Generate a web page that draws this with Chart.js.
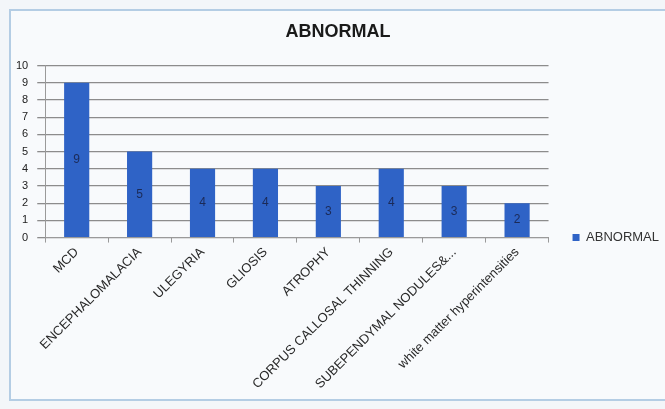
<!DOCTYPE html>
<html>
<head>
<meta charset="utf-8">
<script src="https://cdn.jsdelivr.net/npm/chart.js@4"></script>
<style>
  html, body { margin: 0; padding: 0; overflow: hidden; background: #f3f6f9; }
  #frame {
    position: absolute; left: 9px; top: 9px; width: 670px; height: 388px;
    border: 2px solid #b4cde4; background: #f8fafc;
  }
  #chart { position: absolute; left: 0; top: 0; }
</style>
</head>
<body>
<div id="frame"></div>
<canvas id="chart" width="669" height="409"></canvas>
<script>
const categories = [
    'MCD',
    'ENCEPHALOMALACIA',
    'ULEGYRIA',
    'GLIOSIS',
    'ATROPHY',
    'CORPUS CALLOSAL THINNING',
    'SUBEPENDYMAL NODULES&...',
    'white matter hyperintensities'
];
const abnormal = [9, 5, 4, 4, 3, 4, 3, 2];
const yTicks = [0, 1, 2, 3, 4, 5, 6, 7, 8, 9, 10];

const FONT = '"Liberation Sans", Arial, sans-serif';

// writes the value in the middle of each bar
const barValues = {
    id: 'barValues',
    afterDatasetsDraw(chart) {
        const ctx = chart.ctx;
        const meta = chart.getDatasetMeta(0);
        ctx.save();
        ctx.font = '12px ' + FONT;
        ctx.fillStyle = '#1b2a57';
        ctx.textAlign = 'center';
        ctx.textBaseline = 'middle';
        meta.data.forEach((bar, i) => {
            ctx.fillText(chart.data.datasets[0].data[i], bar.x, (bar.y + bar.base) / 2);
        });
        ctx.restore();
    }
};

// Excel puts the legend a bit lower than the chart.js centre
const legendShift = {
    id: 'legendShift',
    afterLayout(chart) {
        chart.legend.top += 30;
        chart.legend.bottom += 30;
    }
};

const ctx = document.getElementById('chart').getContext('2d');
new Chart(ctx, {
    type: 'bar',
    data: {
        labels: categories,
        datasets: [{
            label: 'ABNORMAL',
            data: abnormal,
            backgroundColor: '#2f63c6',
            borderWidth: 0,
            barPercentage: 0.4,
            categoryPercentage: 1
        }]
    },
    options: {
        responsive: false,
        animation: false,
        layout: { padding: { left: 7, top: 21, right: 0, bottom: 15 } },
        plugins: {
            title: {
                display: true,
                text: 'ABNORMAL',
                color: '#1a1a1a',
                font: { family: FONT, size: 18, weight: 'bold' },
                padding: { top: 0, bottom: 23 }
            },
            legend: {
                position: 'right',
                align: 'center',
                labels: {
                    boxWidth: 7,
                    boxHeight: 7,
                    padding: 24,
                    color: '#333',
                    font: { family: FONT, size: 13 }
                }
            },
            tooltip: { enabled: false }
        },
        scales: {
            x: {
                grid: {
                    drawOnChartArea: false,
                    drawTicks: true,
                    tickLength: 5,
                    color: '#9a9a9a'
                },
                border: { color: '#9a9a9a' },
                ticks: {
                    minRotation: 45,
                    maxRotation: 45,
                    autoSkip: false,
                    padding: 2,
                    color: '#2a2a2a',
                    font: { family: FONT, size: 13 }
                }
            },
            y: {
                min: 0,
                max: 10,
                afterBuildTicks(axis) {
                    axis.ticks = yTicks.map(v => ({ value: v }));
                },
                grid: {
                    color: '#8c8c8c',
                    lineWidth: 1.3,
                    tickLength: 8
                },
                border: { color: '#9a9a9a' },
                ticks: {
                    padding: 9,
                    color: '#222',
                    font: { family: FONT, size: 11 }
                }
            }
        }
    },
    plugins: [barValues, legendShift]
});
</script>
</body>
</html>
